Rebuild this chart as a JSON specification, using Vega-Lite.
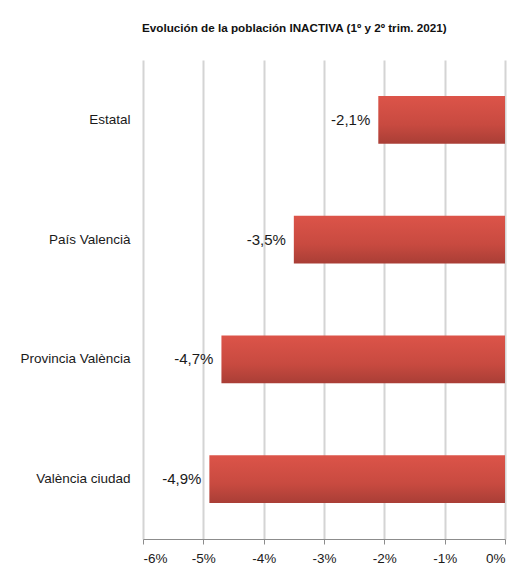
{
  "$schema": "https://vega.github.io/schema/vega-lite/v6.json",
  "width": 362,
  "height": 479,
  "autosize": {"type": "none"},
  "padding": {"left": 143, "top": 60, "right": 13, "bottom": 44},
  "background": "white",
  "config": {
    "font": "Liberation Sans",
    "view": {"stroke": null},
    "locale": {"number": {"decimal": ",", "thousands": ".", "grouping": [3], "currency": ["", " €"], "minus": "-"}}
  },
  "title": {
    "text": "Evolución de la población INACTIVA (1º y 2º trim. 2021)",
    "anchor": "start",
    "frame": "group",
    "dx": -1,
    "offset": 25,
    "fontSize": 11.7,
    "fontWeight": "bold",
    "color": "#111111",
    "font": "Liberation Sans"
  },
  "data": {
    "values": [
      {"region": "Estatal", "value": -0.021},
      {"region": "País Valencià", "value": -0.035},
      {"region": "Provincia València", "value": -0.047},
      {"region": "València ciudad", "value": -0.049}
    ]
  },
  "encoding": {
    "y": {
      "field": "region",
      "type": "nominal",
      "sort": null,
      "scale": {"paddingInner": 0.6, "paddingOuter": 0.3},
      "axis": {
        "title": null,
        "orient": "left",
        "domain": false,
        "ticks": false,
        "labelFontSize": 13.5,
        "labelColor": "#1a1a1a",
        "labelPadding": 13
      }
    }
  },
  "layer": [
    {
      "mark": {
        "type": "bar",
        "color": {
          "gradient": "linear",
          "x1": 0, "y1": 0, "x2": 0, "y2": 1,
          "stops": [
            {"offset": 0, "color": "#dc5449"},
            {"offset": 0.6, "color": "#c84a40"},
            {"offset": 1, "color": "#a93e36"}
          ]
        }
      },
      "encoding": {
        "x": {
          "field": "value",
          "type": "quantitative",
          "scale": {"domain": [-0.06, 0], "nice": false},
          "axis": {
            "title": null,
            "format": ".0%",
            "values": [-0.06, -0.05, -0.04, -0.03, -0.02, -0.01, 0],
            "grid": true,
            "gridColor": "#d4d4d4",
            "gridWidth": 2,
            "domainColor": "#8c8c8c",
            "tickColor": "#8c8c8c",
            "tickSize": 5,
            "labelFontSize": 13.5,
            "labelColor": "#1a1a1a",
            "labelPadding": 7
          }
        }
      }
    },
    {
      "mark": {"type": "text", "align": "right", "baseline": "middle", "dx": -8, "fontSize": 15, "color": "#1a1a1a"},
      "encoding": {
        "x": {"field": "value", "type": "quantitative"},
        "text": {"field": "value", "type": "quantitative", "format": ".1%"}
      }
    },
    {
      "mark": {"type": "rule", "color": "#bfbfbf", "strokeWidth": 2},
      "encoding": {
        "x": {"datum": 0}
      }
    }
  ]
}
